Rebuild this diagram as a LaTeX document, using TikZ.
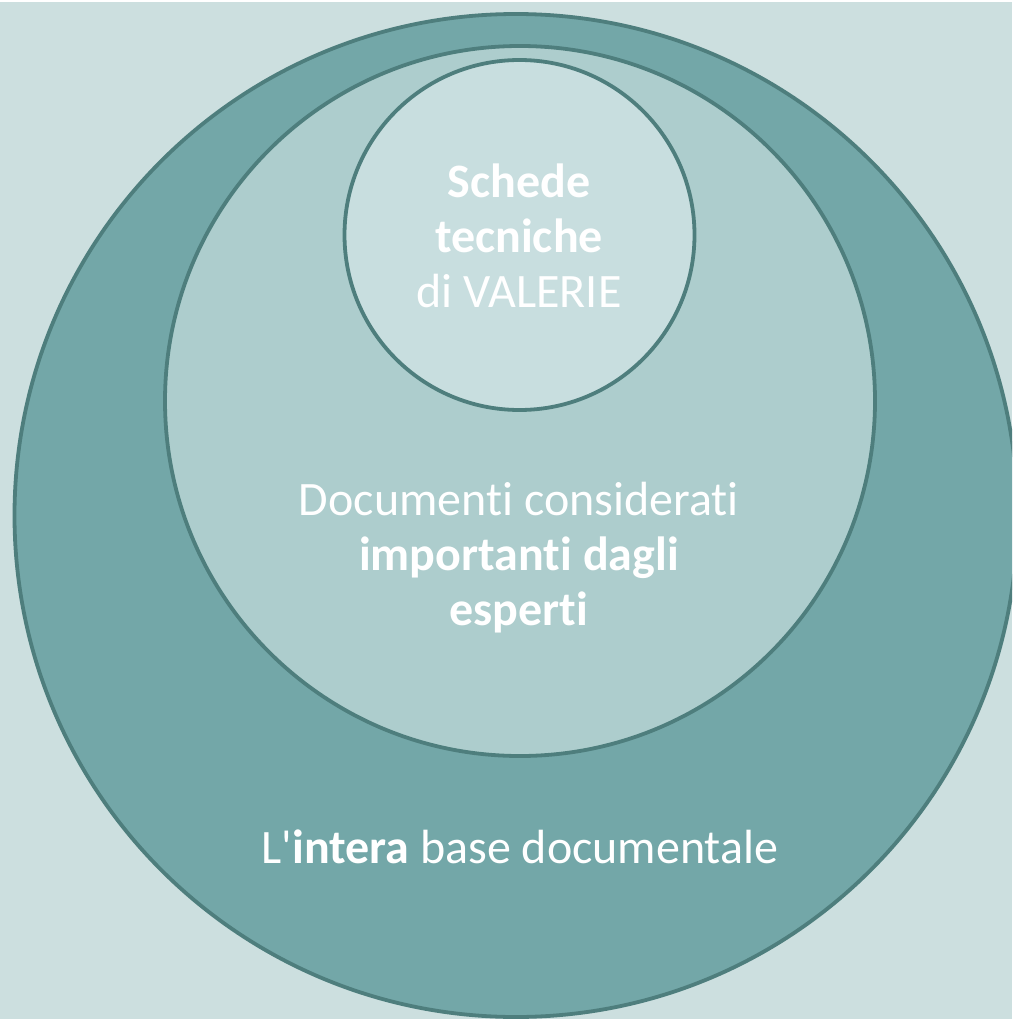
\documentclass[tikz,border=0pt]{standalone}
\usepackage{fontspec}
\setmainfont{Carlito}[Ligatures=NoCommon]
\usepackage{xcolor}
\definecolor{sfondo}{HTML}{CCDFDF}
\definecolor{esterno}{HTML}{73A7A8}
\definecolor{medio}{HTML}{ADCDCD}
\definecolor{interno}{HTML}{C8DEDF}
\definecolor{bordo}{HTML}{4E7E7D}
\tikzset{
  ring/.style={circle,draw=bordo,line width=3.8pt,inner sep=0pt},
  scritta/.style={text=white,align=center,font=\fontsize{48}{55}\selectfont}
}

\begin{document}
\begin{tikzpicture}[x=1pt,y=-1pt]
            \useasboundingbox (0,0) rectangle (1012,1019);
            \clip (0,0) rectangle (1012,1019);
            \fill[white] (0,0) rectangle (1012,1019);
            \fill[sfondo] (0,2) rectangle (1012,1019);
            \node[ring,fill=esterno,minimum size=1003pt] (base) at (516,515.5) {};
            \node[ring,fill=medio,minimum size=710pt] (esperti) at (520,401) {};
            \node[ring,fill=interno,minimum size=350pt] (schede) at (519.5,235) {};
            \node[scritta] (tschede) at (519,236) {\textbf{Schede}\\\textbf{tecniche}\\di VALERIE};
            \node[scritta] (tesperti) at (519,558) {Documenti considerati\\\textbf{importanti dagli}\\\textbf{esperti}};
            \node[scritta] (tbase) at (520,847) {L\textquotesingle\textbf{intera} base documentale};
    \end{tikzpicture}
\end{document}
